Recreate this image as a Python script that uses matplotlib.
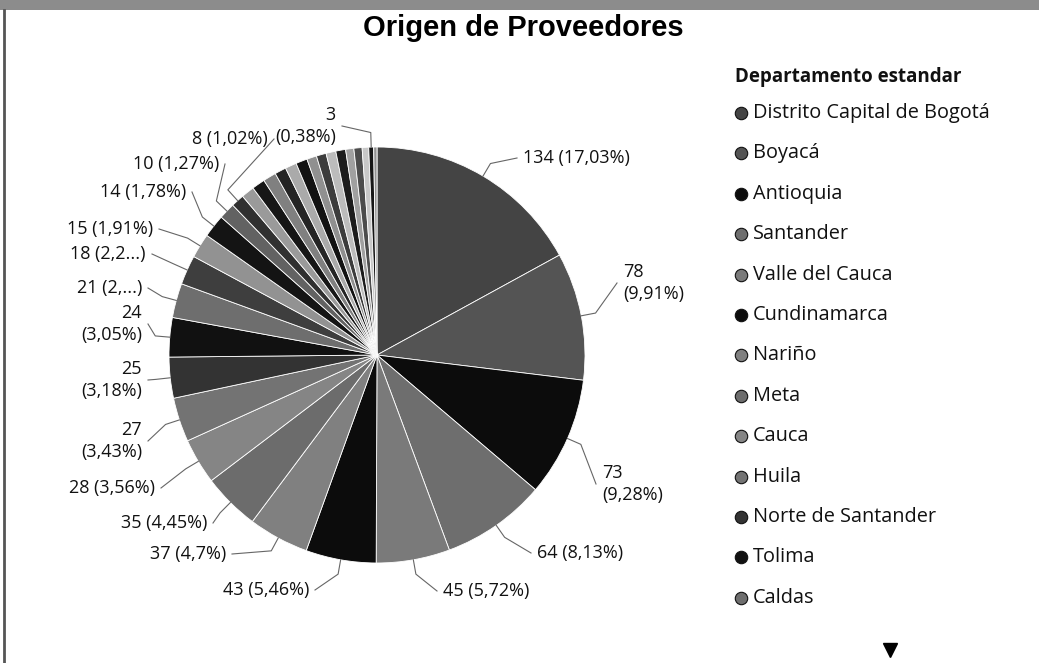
import numpy as np
import matplotlib.pyplot as plt
from matplotlib.patches import Rectangle

# --------------------------------------------------
# Data (providers per department, sorted as in the chart)
# --------------------------------------------------

departamentos = [
    "Distrito Capital de Bogotá", "Boyacá", "Antioquia", "Santander",
    "Valle del Cauca", "Cundinamarca", "Nariño", "Meta", "Cauca", "Huila",
    "Norte de Santander", "Tolima", "Caldas", "Bolívar", "Atlántico",
    "Quindío", "Risaralda", "Casanare", "Magdalena", "Córdoba", "Cesar",
    "Sucre", "La Guajira", "Caquetá", "Putumayo", "Arauca", "Chocó",
    "Amazonas", "Guaviare", "Vichada", "Guainía", "Vaupés", "San Andrés",
]
proveedores = [134, 78, 73, 64, 45, 43, 37, 35, 28, 27, 25, 24, 21, 18, 15,
               14, 10, 8, 8, 8, 8, 7, 7, 7, 6, 6, 6, 6, 5, 5, 4, 3, 2]

# label texts as shown by Power BI (truncated where it ran out of room)
etiquetas = {
    0: "134 (17,03%)", 1: "78\n(9,91%)", 2: "73\n(9,28%)", 3: "64 (8,13%)",
    4: "45 (5,72%)", 5: "43 (5,46%)", 6: "37 (4,7%)", 7: "35 (4,45%)",
    8: "28 (3,56%)", 9: "27\n(3,43%)", 10: "25\n(3,18%)", 11: "24\n(3,05%)",
    12: "21 (2,...)", 13: "18 (2,2...)", 14: "15 (1,91%)", 15: "14 (1,78%)",
    16: "10 (1,27%)", 17: "8 (1,02%)", 31: "3\n(0,38%)",
}

# label anchor positions (pixels from top-left) and alignment
pos_etiquetas = {
    0: (523, 158, "left"), 1: (623, 283, "left"), 2: (602, 484, "left"),
    3: (537, 553, "left"), 4: (443, 591, "left"), 5: (309, 590, "right"),
    6: (226, 554, "right"), 7: (207, 523, "right"), 8: (155, 488, "right"),
    9: (142, 441, "right"), 10: (142, 380, "right"), 11: (142, 324, "right"),
    12: (142, 288, "right"), 13: (146, 254, "right"), 14: (153, 229, "right"),
    15: (186, 192, "right"), 16: (219, 164, "right"), 17: (268, 139, "right"),
    31: (336, 126, "right"),
}

colores = [
    "#444444", "#545454", "#0c0c0c", "#6e6e6e", "#7a7a7a", "#0c0c0c",
    "#808080", "#6c6c6c", "#858585", "#737373", "#333333", "#111111",
    "#6e6e6e", "#3e3e3e", "#929292", "#141414", "#626262", "#303030",
    "#9a9a9a", "#161616", "#808080", "#242424", "#aaaaaa", "#121212",
    "#909090", "#3c3c3c", "#bcbcbc", "#1c1c1c", "#a0a0a0", "#4c4c4c",
    "#c8c8c8", "#161616", "#929292",
]

W, H = 1039, 663
CX, CY, R = 377, 355, 208
FONT = ["Open Sans", "DejaVu Sans"]

fig = plt.figure(figsize=(W / 100, H / 100), dpi=100)
ax = fig.add_axes([0, 0, 1, 1])

# --------------------------------------------------
# Pie
# --------------------------------------------------

ax.pie(proveedores, colors=colores, startangle=90, counterclock=False,
       center=(CX, H - CY), radius=R, frame=True,
       wedgeprops=dict(edgecolor="white", linewidth=0.6))
ax.set_xlim(0, W)
ax.set_ylim(0, H)
ax.axis("off")

# frame of the screenshot
ax.add_patch(Rectangle((0, H - 10), W, 10, color="#8c8c8c", lw=0))
ax.plot([4, 4], [0, H - 10], color="#555555", lw=2)

total = sum(proveedores)
acum = np.cumsum(proveedores)
for i, txt in etiquetas.items():
    mid = (acum[i] - proveedores[i] / 2) / total * 2 * np.pi
    x0 = CX + R * np.sin(mid)
    y0 = H - CY + R * np.cos(mid)
    x1 = CX + R * 1.07 * np.sin(mid)
    y1 = H - CY + R * 1.07 * np.cos(mid)
    tx, ty, ha = pos_etiquetas[i]
    ty = H - ty
    ex = tx - 6 if ha == "left" else tx + 6
    ax.plot([x0, x1, ex], [y0, y1, ty], color="#666666", lw=0.8)
    ax.text(tx, ty, txt, ha=ha, va="center", fontsize=13, color="#111111",
            family=FONT, linespacing=1.25)

# --------------------------------------------------
# Title and legend
# --------------------------------------------------

ax.text(523, H - 28, "Origen de Proveedores", ha="center", va="center",
        fontsize=21, fontweight="bold", family=["Liberation Sans", "DejaVu Sans"])

ax.text(735, H - 77, "Departamento estandar", ha="left", va="center",
        fontsize=13.5, fontweight="bold", family=FONT, color="#111111")
for k in range(13):
    yy = H - (113 + 40.4 * k)
    ax.scatter([741], [yy], s=80, color=colores[k], edgecolor="#111111",
               linewidth=0.8, zorder=3)
    ax.text(753, yy, departamentos[k], ha="left", va="center", fontsize=14.3,
            family=FONT, color="#111111")

ax.plot([890], [H - 650], marker="v", color="black", markersize=10)

fig.savefig("out.png", dpi=100)
